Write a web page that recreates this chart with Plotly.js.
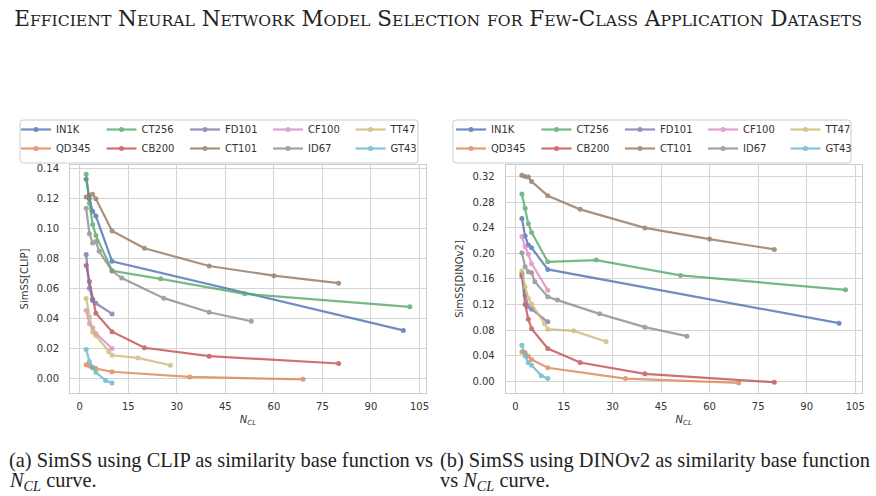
<!DOCTYPE html>
<html>
<head>
<meta charset="utf-8">
<script src="https://cdn.plot.ly/plotly-3.0.1.min.js"></script>
<style>
  html, body { margin: 0; padding: 0; background: #fff; }
  #chart { width: 876px; height: 496px; }
</style>
</head>
<body>
<div id="chart"></div>
<script>
// Dataset names and seaborn "deep" colours
const names = ["IN1K", "QD345", "CT256", "CB200", "FD101", "CT101", "CF100", "ID67", "TT47", "GT43"];
const colors = ["#4C72B0", "#DD8452", "#55A868", "#C44E52", "#8172B3", "#937860", "#DA8BC3", "#8C8C8C", "#CCB974", "#64B5CD"];

// Number of classes (N_CL) per dataset
const ncl_IN1K  = [2, 3, 4, 5, 10, 100];
const ncl_QD345 = [2, 3, 4, 5, 10, 34, 69];
const ncl_CT256 = [2, 3, 4, 5, 10, 25, 51, 102];
const ncl_CB200 = [2, 3, 4, 5, 10, 20, 40, 80];
const ncl_FD101 = [2, 3, 4, 5, 10];
const ncl_CT101 = [2, 3, 4, 5, 10, 20, 40, 60, 80];
const ncl_CF100 = [2, 3, 4, 5, 10];
const ncl_ID67  = [2, 3, 4, 5, 6, 10, 13, 26, 40, 53];
const ncl_TT47  = [2, 3, 4, 5, 9, 10, 18, 28];
const ncl_GT43  = [2, 3, 4, 5, 8, 10];

// SimSS with CLIP as the similarity base function
const clip_IN1K  = [0.1331, 0.1200, 0.1118, 0.1085, 0.0783, 0.0322];
const clip_QD345 = [0.0093, 0.0084, 0.0072, 0.0067, 0.0046, 0.0011, -0.0005];
const clip_CT256 = [0.1364, 0.1170, 0.1029, 0.0956, 0.0720, 0.0666, 0.0566, 0.0479];
const clip_CB200 = [0.0755, 0.0648, 0.0530, 0.0436, 0.0313, 0.0206, 0.0150, 0.0101];
const clip_FD101 = [0.0828, 0.0604, 0.0521, 0.0503, 0.0432];
const clip_CT101 = [0.1212, 0.1225, 0.1230, 0.1201, 0.0986, 0.0870, 0.0752, 0.0687, 0.0637];
const clip_CF100 = [0.0454, 0.0366, 0.0340, 0.0302, 0.0201];
const clip_ID67  = [0.1138, 0.0967, 0.0905, 0.0915, 0.0850, 0.0718, 0.0671, 0.0537, 0.0443, 0.0383];
const clip_TT47  = [0.0535, 0.0413, 0.0310, 0.0286, 0.0179, 0.0156, 0.0138, 0.0089];
const clip_GT43  = [0.0195, 0.0115, 0.0076, 0.0042, -0.0013, -0.0030];

// SimSS with DINOv2 as the similarity base function
const dino_IN1K  = [0.2548, 0.2271, 0.2130, 0.2088, 0.1750, 0.0908];
const dino_QD345 = [0.0459, 0.0450, 0.0392, 0.0340, 0.0210, 0.0042, -0.0026];
const dino_CT256 = [0.2929, 0.2705, 0.2465, 0.2329, 0.1869, 0.1895, 0.1655, 0.1430];
const dino_CB200 = [0.1680, 0.1200, 0.0971, 0.0822, 0.0512, 0.0293, 0.0115, -0.0016];
const dino_FD101 = [0.1640, 0.1347, 0.1164, 0.1128, 0.0929];
const dino_CT101 = [0.3222, 0.3203, 0.3195, 0.3125, 0.2903, 0.2689, 0.2399, 0.2224, 0.2063];
const dino_CF100 = [0.2265, 0.2104, 0.1987, 0.1840, 0.1425];
const dino_ID67  = [0.2010, 0.1790, 0.1712, 0.1697, 0.1556, 0.1320, 0.1269, 0.1054, 0.0846, 0.0705];
const dino_TT47  = [0.1725, 0.1480, 0.1295, 0.1210, 0.0900, 0.0815, 0.0788, 0.0622];
const dino_GT43  = [0.0564, 0.0395, 0.0290, 0.0248, 0.0084, 0.0042];

// Axis ticks
const xTicks = [0, 15, 30, 45, 60, 75, 90, 105];
const yTicksClip = [0.00, 0.02, 0.04, 0.06, 0.08, 0.10, 0.12, 0.14];
const yTicksDino = [0.00, 0.04, 0.08, 0.12, 0.16, 0.20, 0.24, 0.28, 0.32];

const nclSets  = [ncl_IN1K, ncl_QD345, ncl_CT256, ncl_CB200, ncl_FD101, ncl_CT101, ncl_CF100, ncl_ID67, ncl_TT47, ncl_GT43];
const clipSets = [clip_IN1K, clip_QD345, clip_CT256, clip_CB200, clip_FD101, clip_CT101, clip_CF100, clip_ID67, clip_TT47, clip_GT43];
const dinoSets = [dino_IN1K, dino_QD345, dino_CT256, dino_CB200, dino_FD101, dino_CT101, dino_CF100, dino_ID67, dino_TT47, dino_GT43];

const W = 876, H = 496;
const px = v => v / W;          // pixel -> paper x
const py = v => 1 - v / H;      // pixel -> paper y

// Each panel gets a 5-column, 2-row key: one small legend per column
const colLeftPx = [16, 101.5, 185, 268, 350.5];
const rightShift = 435;
const legendTopPx = 115;

const traces = [];
const legends = {};
function addPanel(ySets, xa, ya, legendOffset, shiftPx) {
  for (let i = 0; i < names.length; i++) {
    const col = Math.floor(i / 2);
    const legendId = "legend" + (legendOffset + col === 1 ? "" : (legendOffset + col));
    traces.push({
      type: "scatter",
      mode: "lines+markers",
      name: names[i],
      x: nclSets[i],
      y: ySets[i],
      xaxis: xa,
      yaxis: ya,
      legend: legendId,
      opacity: 0.8,
      line: { color: colors[i], width: 2.2 },
      marker: { color: colors[i], size: 5 }
    });
    legends[legendId] = {
      orientation: "v",
      xref: "paper", yref: "paper",
      x: px(colLeftPx[col] + shiftPx), y: py(legendTopPx),
      xanchor: "left", yanchor: "top",
      font: { family: "DejaVu Sans", size: 10, color: "#333333" },
      bgcolor: "rgba(0,0,0,0)", borderwidth: 0,
      traceorder: "normal", tracegroupgap: 0
    };
  }
}
addPanel(clipSets, "x", "y", 1, 0);
addPanel(dinoSets, "x2", "y2", 6, rightShift);

// Small-caps rendering of the running header
function smallCaps(s, small) {
  let out = "";
  for (const ch of s) {
    if (ch >= "a" && ch <= "z") {
      out += '<span style="font-size:' + small + 'px">' + ch.toUpperCase() + "</span>";
    } else {
      out += ch;
    }
  }
  return out;
}
const header = "Efficient Neural Network Model Selection for Few-Class Application Datasets";

const tickFont = { family: "DejaVu Sans", size: 10, color: "#333333" };
const gridColor = "#d5d5d5";

function xAxis(domain, anchor) {
  return {
    domain: domain, anchor: anchor,
    range: [-3, 107], tickvals: xTicks, ticktext: xTicks.map(String),
    showgrid: true, gridcolor: gridColor, gridwidth: 1,
    zeroline: false, showline: true, mirror: true, linecolor: "#cccccc", linewidth: 1,
    ticks: "outside", ticklen: 4, tickcolor: "rgba(0,0,0,0)",
    tickfont: tickFont,
    title: { text: "<i>N</i><sub><i>CL</i></sub>", font: { family: "DejaVu Sans", size: 10, color: "#333333" }, standoff: 4 }
  };
}
function yAxis(domain, anchor, range, ticks, title) {
  return {
    domain: domain, anchor: anchor,
    range: range, tickvals: ticks, ticktext: ticks.map(v => v.toFixed(2)),
    showgrid: true, gridcolor: gridColor, gridwidth: 1,
    zeroline: false, showline: true, mirror: true, linecolor: "#cccccc", linewidth: 1,
    ticks: "outside", ticklen: 8, tickcolor: "rgba(0,0,0,0)",
    tickfont: tickFont,
    title: { text: title, font: { family: "DejaVu Sans", size: 10, color: "#333333" }, standoff: 6 }
  };
}

const yDom = [py(393.3), py(164.7)];
const captionFont = { family: "Liberation Serif", size: 20.4, color: "#222222" };
function caption(xPx, yPx, text) {
  return {
    xref: "paper", yref: "paper", x: px(xPx), y: py(yPx), xanchor: "left", yanchor: "middle",
    align: "left", showarrow: false, text: text, font: captionFont
  };
}
// Rounded frame behind each key
function keyFrame(x0, x1) {
  const y0 = 120, y1 = 163, r = 3;
  const P = (x, y) => px(x).toFixed(5) + "," + py(y).toFixed(5);
  const path = "M" + P(x0 + r, y0) + " L" + P(x1 - r, y0) + " Q" + P(x1, y0) + " " + P(x1, y0 + r) +
    " L" + P(x1, y1 - r) + " Q" + P(x1, y1) + " " + P(x1 - r, y1) +
    " L" + P(x0 + r, y1) + " Q" + P(x0, y1) + " " + P(x0, y1 - r) +
    " L" + P(x0, y0 + r) + " Q" + P(x0, y0) + " " + P(x0 + r, y0) + " Z";
  return {
    type: "path", xref: "paper", yref: "paper", layer: "below", path: path,
    line: { color: "#cccccc", width: 1 }, fillcolor: "#ffffff"
  };
}

const layout = Object.assign({
  width: W, height: H,
  margin: { l: 0, r: 0, t: 0, b: 0 },
  paper_bgcolor: "#ffffff", plot_bgcolor: "#ffffff",
  showlegend: true,
  title: {
    text: smallCaps(header, 15.6),
    font: { family: "DejaVu Serif", size: 21.5, color: "#222222" },
    x: 0.5, xanchor: "center", y: py(18), yanchor: "middle", yref: "paper"
  },
  xaxis: xAxis([px(70), px(426)], "y"),
  yaxis: yAxis(yDom, "x", [-0.0098, 0.1428], yTicksClip, "SimSS[CLIP]"),
  xaxis2: xAxis([px(505.7), px(861.7)], "y2"),
  yaxis2: yAxis(yDom, "x2", [-0.0189, 0.3388], yTicksDino, "SimSS[DINOv2]"),
  shapes: [keyFrame(20, 418), keyFrame(453, 851)],
  annotations: [
    caption(7, 460, "(a) SimSS using CLIP as similarity base function vs"),
    caption(7, 481, "<i>N</i><sub><i>CL</i></sub> curve."),
    caption(438, 460, "(b) SimSS using DINOv2 as similarity base function"),
    caption(438, 481, "vs <i>N</i><sub><i>CL</i></sub> curve.")
  ]
}, legends);

Plotly.newPlot("chart", traces, layout, { displayModeBar: false, staticPlot: true });
</script>
</body>
</html>
